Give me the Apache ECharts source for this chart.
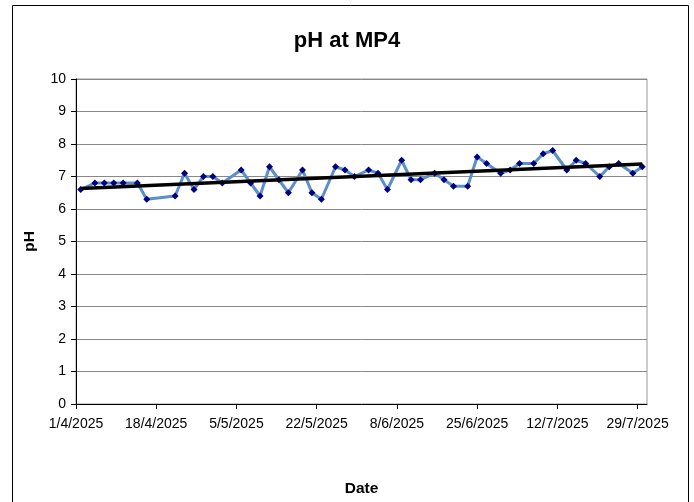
<!DOCTYPE html>
<html>
<head>
<meta charset="utf-8">
<script src="https://cdn.jsdelivr.net/npm/echarts@6/dist/echarts.min.js"></script>
<style>
  html, body { margin: 0; padding: 0; background: #fff; }
  #chart { width: 694px; height: 502px; }
</style>
</head>
<body>
<div id="chart"></div>
<script>
// sample dates (d/m/2025) and pH readings at MP4
const sampleDates = [
  '2/4', '5/4', '7/4', '9/4', '11/4', '14/4', '16/4', '22/4', '24/4', '26/4',
  '28/4', '30/4', '2/5', '6/5', '8/5', '10/5', '12/5', '14/5', '16/5', '19/5',
  '21/5', '23/5', '26/5', '28/5', '30/5', '2/6', '4/6', '6/6', '9/6', '11/6',
  '13/6', '16/6', '18/6', '20/6', '23/6', '25/6', '27/6', '30/6', '2/7', '4/7',
  '7/7', '9/7', '11/7', '14/7', '16/7', '18/7', '21/7', '23/7', '25/7', '28/7',
  '30/7'
];
const phValues = [
  6.6, 6.8, 6.8, 6.8, 6.8, 6.8, 6.3, 6.4, 7.1, 6.6,
  7.0, 7.0, 6.8, 7.2, 6.8, 6.4, 7.3, 6.9, 6.5, 7.2,
  6.5, 6.3, 7.3, 7.2, 7.0, 7.2, 7.1, 6.6, 7.5, 6.9,
  6.9, 7.1, 6.9, 6.7, 6.7, 7.6, 7.4, 7.1, 7.2, 7.4,
  7.4, 7.7, 7.8, 7.2, 7.5, 7.4, 7.0, 7.3, 7.4, 7.1,
  7.3
];
const xTickLabels = ['1/4/2025', '18/4/2025', '5/5/2025', '22/5/2025',
                     '8/6/2025', '25/6/2025', '12/7/2025', '29/7/2025'];
const yTicks = [0, 1, 2, 3, 4, 5, 6, 7, 8, 9, 10];

// days since 1 April 2025
const start = Date.UTC(2025, 3, 1);
const toDay = (s) => {
  const [d, m] = s.split('/').map(Number);
  return Math.round((Date.UTC(2025, m - 1, d) - start) / 86400000);
};
const days = sampleDates.map(toDay);
const seriesData = days.map((d, i) => [d, phValues[i]]);

// linear trend (least squares)
const n = days.length;
const mx = days.reduce((a, b) => a + b, 0) / n;
const my = phValues.reduce((a, b) => a + b, 0) / n;
let sxy = 0, sxx = 0;
days.forEach((d, i) => { sxy += (d - mx) * (phValues[i] - my); sxx += (d - mx) * (d - mx); });
const slope = sxy / sxx;
const icpt = my - slope * mx;
const trendData = [days[0], days[n - 1]].map(d => [d, icpt + slope * d]);

const chart = echarts.init(document.getElementById('chart'));
const font = 'Liberation Sans, Arial, sans-serif';

chart.setOption({
  animation: false,
  textStyle: { fontFamily: font },
  title: {
    text: 'pH at MP4',
    left: 'center',
    top: 25,
    textStyle: { fontFamily: font, fontSize: 22, fontWeight: 'bold', color: '#000' }
  },
  graphic: [{
    type: 'rect',
    shape: { x: 12.5, y: 5.5, width: 676, height: 520 },
    style: { fill: null, stroke: '#000', lineWidth: 1 },
    silent: true
  }],
  grid: { left: 76, right: 47, top: 79, bottom: 96, show: true, borderColor: '#999', borderWidth: 1 },
  xAxis: {
    type: 'value',
    min: 0,
    max: 121,
    interval: 17,
    name: 'Date',
    nameLocation: 'middle',
    nameGap: 77,
    nameTextStyle: { fontFamily: font, fontSize: 15.5, fontWeight: 'bold', color: '#000' },
    axisLine: { onZero: false, lineStyle: { color: '#000', width: 1 } },
    axisTick: { show: true, length: 5, lineStyle: { color: '#000' } },
    axisLabel: {
      color: '#000', fontSize: 14, fontFamily: font, margin: 13,
      showMaxLabel: false,
      formatter: (v) => xTickLabels[Math.round(v / 17)] || ''
    },
    splitLine: { show: false }
  },
  yAxis: {
    type: 'value',
    min: yTicks[0],
    max: yTicks[yTicks.length - 1],
    interval: 1,
    name: 'pH',
    nameLocation: 'middle',
    nameGap: 38,
    nameTextStyle: { fontFamily: font, fontSize: 15.5, fontWeight: 'bold', color: '#000' },
    axisLine: { show: true, lineStyle: { color: '#000', width: 1 } },
    axisTick: { show: true, length: 5, lineStyle: { color: '#000' } },
    axisLabel: { color: '#000', fontSize: 14, fontFamily: font, margin: 10 },
    splitLine: { show: true, lineStyle: { color: '#888', width: 1 } }
  },
  series: [
    {
      name: 'pH',
      type: 'line',
      data: seriesData,
      symbol: 'diamond',
      symbolSize: 7,
      lineStyle: { color: '#5b8fc7', width: 3 },
      itemStyle: { color: '#000080', borderWidth: 0 },
      z: 2
    },
    {
      name: 'Trend',
      type: 'line',
      data: trendData,
      symbol: 'none',
      lineStyle: { color: '#000', width: 3.5 },
      z: 3
    }
  ]
});
</script>
</body>
</html>
